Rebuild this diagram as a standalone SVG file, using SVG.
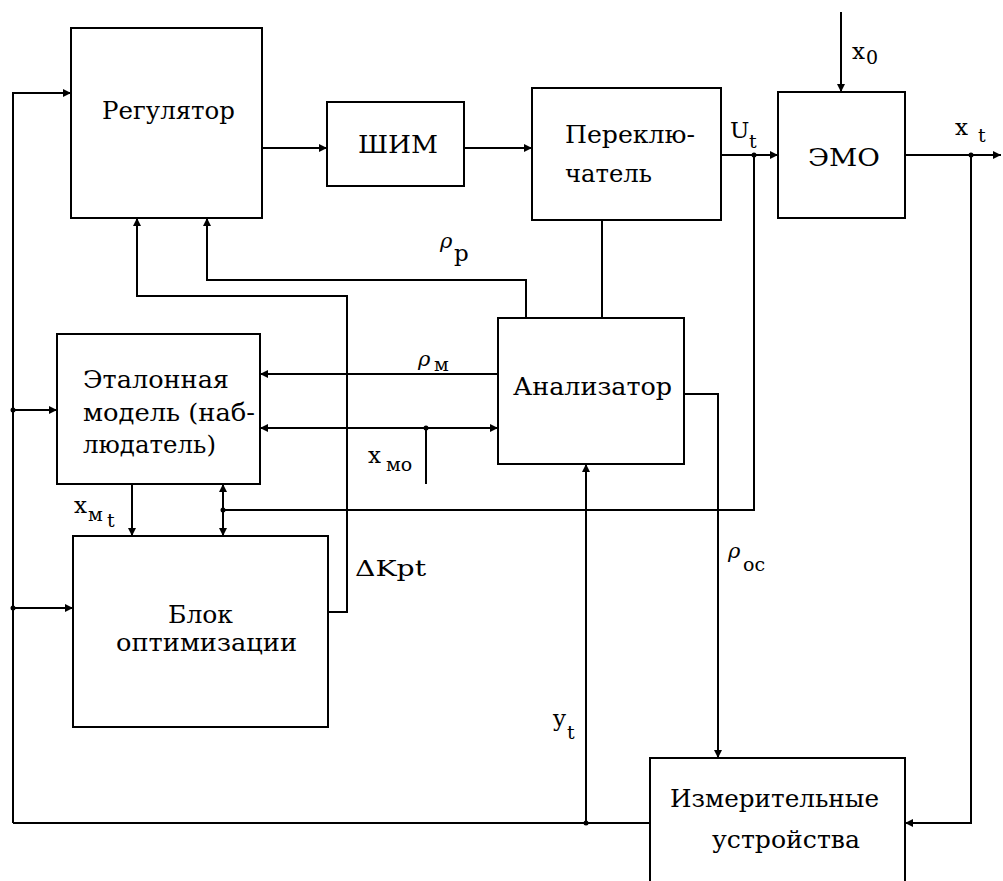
<svg xmlns="http://www.w3.org/2000/svg" width="1003" height="881" viewBox="0 0 1003 881">
<style>
.box{fill:#fff;stroke:#000;stroke-width:2}
.ln{fill:none;stroke:#000;stroke-width:2}
.t{font-size:24px}
.l{font-size:23px}
.s{font-size:19px}
.g{font-size:21px;font-style:italic}
.dot{fill:#000}
</style>
<defs>
<marker id="arr" viewBox="0 0 10 10" refX="10" refY="5" markerWidth="9" markerHeight="8" markerUnits="userSpaceOnUse" orient="auto-start-reverse">
<path d="M0,0 L10,5 L0,10 z" fill="#000"/>
</marker>
</defs>
<rect width="1003" height="881" fill="#fff"/>

<g id="connectors">
<path class="ln" d="M13,823 V93 H71" marker-end="url(#arr)"/>
<path class="ln" d="M650,823 H13"/>
<path class="ln" d="M13,410 H57" marker-end="url(#arr)"/>
<path class="ln" d="M13,608 H73" marker-end="url(#arr)"/>
<path class="ln" d="M262,148 H327" marker-end="url(#arr)"/>
<path class="ln" d="M464,148 H532" marker-end="url(#arr)"/>
<path class="ln" d="M721,155 H778" marker-end="url(#arr)"/>
<path class="ln" d="M841,12 V92" marker-end="url(#arr)"/>
<path class="ln" d="M905,155 H1001" marker-end="url(#arr)"/>
<path class="ln" d="M971,155 V823 H905" marker-end="url(#arr)"/>
<path class="ln" d="M754,155 V510 H223"/>
<path class="ln" d="M223,510 V484" marker-end="url(#arr)"/>
<path class="ln" d="M223,510 V536" marker-end="url(#arr)"/>
<path class="ln" d="M602,220 V318"/>
<path class="ln" d="M526,318 V280 H207 V218" marker-end="url(#arr)"/>
<path class="ln" d="M328,612 H347 V296 H137 V218" marker-end="url(#arr)"/>
<path class="ln" d="M498,374 H260" marker-end="url(#arr)"/>
<path class="ln" d="M260,428 H498" marker-start="url(#arr)" marker-end="url(#arr)"/>
<path class="ln" d="M426,428 V484"/>
<path class="ln" d="M132,484 V536" marker-end="url(#arr)"/>
<path class="ln" d="M684,394 H718 V758" marker-end="url(#arr)"/>
<path class="ln" d="M586,823 V464" marker-end="url(#arr)"/>
<circle class="dot" cx="13" cy="410" r="2.5"/>
<circle class="dot" cx="13" cy="608" r="2.5"/>
<circle class="dot" cx="586" cy="823" r="2.5"/>
<circle class="dot" cx="754" cy="155" r="2.5"/>
<circle class="dot" cx="971" cy="155" r="2.5"/>
<circle class="dot" cx="223" cy="510" r="2.5"/>
<circle class="dot" cx="426" cy="428" r="2.5"/>
</g>

<g id="labels" font-family="DejaVu Serif, serif" fill="#000">
<text class="l" x="852" y="59">x<tspan class="s" x="866" y="64">0</tspan></text>
<text class="l" x="730" y="138" font-size="20">U<tspan class="s" x="749" y="148">t</tspan></text>
<text class="l" x="955" y="135">x<tspan class="s" x="978" y="142">t</tspan></text>
<text class="g" x="440" y="248">ρ<tspan class="l" font-style="normal" x="454" y="261">р</tspan></text>
<text class="g" x="418" y="366">ρ<tspan class="s" font-style="normal" x="434" y="371">м</tspan></text>
<text class="l" x="368" y="463">x<tspan class="s" x="386" y="471">мо</tspan></text>
<text class="l" x="74" y="513">x<tspan class="s" x="88" y="521">м</tspan><tspan class="s" x="107" y="527">t</tspan></text>
<text class="l" x="355" y="576" font-size="21" textLength="71" lengthAdjust="spacingAndGlyphs">ΔKpt</text>
<text class="g" x="728" y="558">ρ<tspan class="s" font-style="normal" x="743" y="571">ос</tspan></text>
<text class="l" x="553" y="726">y<tspan class="s" x="567" y="739">t</tspan></text>
</g>

<g id="regulator" font-family="DejaVu Serif, serif">
<rect class="box" x="71" y="28" width="191" height="190"/>
<text class="t" x="102" y="119" textLength="133" lengthAdjust="spacingAndGlyphs">Регулятор</text>
</g>
<g id="shim" font-family="DejaVu Serif, serif">
<rect class="box" x="327" y="102" width="137" height="84"/>
<text class="t" x="358" y="153" textLength="80" lengthAdjust="spacingAndGlyphs">ШИМ</text>
</g>
<g id="pereklyuchatel" font-family="DejaVu Serif, serif">
<rect class="box" x="532" y="88" width="189" height="132"/>
<text class="t"><tspan x="565" y="143" textLength="130" lengthAdjust="spacingAndGlyphs">Переклю-</tspan><tspan x="565" y="182" textLength="87" lengthAdjust="spacingAndGlyphs">чатель</tspan></text>
</g>
<g id="emo" font-family="DejaVu Serif, serif">
<rect class="box" x="778" y="92" width="127" height="126"/>
<text class="t" x="808" y="166" textLength="72" lengthAdjust="spacingAndGlyphs">ЭМО</text>
</g>
<g id="etalon" font-family="DejaVu Serif, serif">
<rect class="box" x="57" y="334" width="203" height="150"/>
<text class="t"><tspan x="83" y="388" textLength="146" lengthAdjust="spacingAndGlyphs">Эталонная</tspan><tspan x="83" y="421" textLength="172" lengthAdjust="spacingAndGlyphs">модель (наб-</tspan><tspan x="83" y="453" textLength="133" lengthAdjust="spacingAndGlyphs">людатель)</tspan></text>
</g>
<g id="analizator" font-family="DejaVu Serif, serif">
<rect class="box" x="498" y="318" width="186" height="146"/>
<text class="t" x="513" y="395" textLength="159" lengthAdjust="spacingAndGlyphs">Анализатор</text>
</g>
<g id="blok" font-family="DejaVu Serif, serif">
<rect class="box" x="73" y="536" width="255" height="191"/>
<text class="t"><tspan x="168" y="623" textLength="65" lengthAdjust="spacingAndGlyphs">Блок</tspan><tspan x="116" y="651" textLength="181" lengthAdjust="spacingAndGlyphs">оптимизации</tspan></text>
</g>
<g id="izmer" font-family="DejaVu Serif, serif">
<rect class="box" x="650" y="758" width="255" height="140"/>
<text class="t"><tspan x="670" y="807" textLength="209" lengthAdjust="spacingAndGlyphs">Измерительные</tspan><tspan x="712" y="848" textLength="148" lengthAdjust="spacingAndGlyphs">устройства</tspan></text>
</g>
</svg>
